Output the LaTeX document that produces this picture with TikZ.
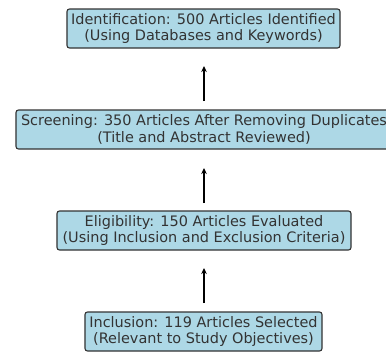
\documentclass[tikz,border=0pt]{standalone}
\usepackage{fontspec}
\setmainfont{DejaVu Sans}
\usetikzlibrary{arrows.meta}
\definecolor{boxfill}{HTML}{ADD8E6}
\definecolor{boxline}{HTML}{333333}
\definecolor{txt}{HTML}{333333}
\begin{document}
\begin{tikzpicture}[x=1bp,y=-1bp,
  stage/.style={draw=boxline, fill=boxfill, line width=1.1bp, rounded corners=2.5bp,
    text=txt, align=center, inner sep=0pt, minimum height=39bp,
    font=\fontsize{14.5pt}{17pt}\selectfont},
  flow/.style={-{Stealth[length=6bp,width=5.5bp]}, line width=1.2bp, black}]
\useasboundingbox (0,0) rectangle (386,352);
\node[stage, minimum width=273bp] (id) at (203.5,28.5) {Identification: 500 Articles Identified\\(Using Databases and Keywords)};
\node[stage, minimum width=376bp] (sc) at (204,129.5) {Screening: 350 Articles After Removing Duplicates\\(Title and Abstract Reviewed)};
\node[stage, minimum width=294bp] (el) at (204,230.5) {Eligibility: 150 Articles Evaluated\\(Using Inclusion and Exclusion Criteria)};
\node[stage, minimum width=237bp] (in) at (203.5,331.5) {Inclusion: 119 Articles Selected\\(Relevant to Study Objectives)};
\coordinate (a1s) at (204,101); \coordinate (a1e) at (204,66);
\coordinate (a2s) at (204,203); \coordinate (a2e) at (204,168);
\coordinate (a3s) at (204,303); \coordinate (a3e) at (204,268);
\draw[flow] (a1s) -- (a1e);
\draw[flow] (a2s) -- (a2e);
\draw[flow] (a3s) -- (a3e);
\end{tikzpicture}
\end{document}
